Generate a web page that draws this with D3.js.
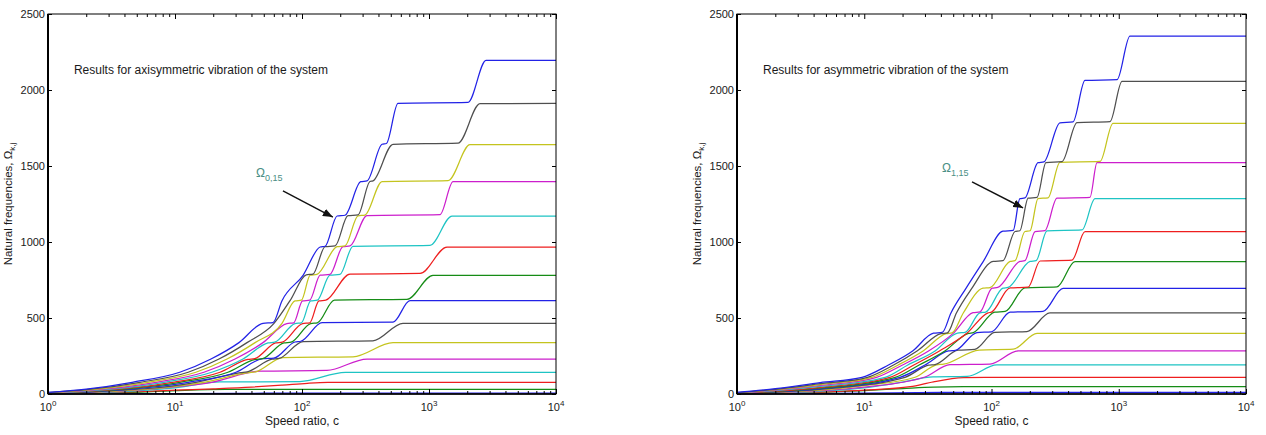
<!DOCTYPE html>
<html>
<head>
<meta charset="utf-8">
<script src="https://cdn.jsdelivr.net/npm/d3@7"></script>
<style>
  body { margin: 0; background: #fff; }
  text { font-family: "Liberation Sans", Arial, Helvetica, sans-serif; }
</style>
</head>
<body>
<svg id="chart" width="1266" height="435"></svg>
<script>
// ---------------- DATA ----------------
const xTickValues = [1, 10, 100, 1000, 10000];
const xTickExponents = ["0", "1", "2", "3", "4"];
const yTickValues = [0, 500, 1000, 1500, 2000, 2500];
const modeColors = ["#2222e6", "#168c16", "#ee1e1e", "#1ec4c4", "#cc1ecc", "#c4c41e", "#4f4f4f"];

// Axisymmetric vibration: 15 modes, each a list of [speed ratio c, natural frequency]
const axisymmetricModes = [
  [[1,0.5],[10,3],[50,5],[10000,5]],
  [[1,1],[3,6],[6,14],[12,24],[25,30],[50,31],[10000,31]],
  [[1,1],[2,5],[5,15],[10,25],[20,34],[40,45],[70,58],[110,70],[160,76],[250,77],[10000,77]],
  [[1,2],[2,7],[5,20],[10,40],[22.6,79],[96,82],[220,143],[10000,143]],
  [[1,2],[2,9],[5,25],[10,47],[19.5,77],[46.7,150],[157,155],[325,230],[10000,230]],
  [[1,3],[2,11],[16.9,77],[38,141],[43,146],[70.8,240],[252,245],[521,338],[10000,338]],
  [[1,3],[2,12],[14.6,77],[33,141],[37,146],[58,229],[66,234],[102,345],[362,350],[624,465],[10000,465]],
  [[1,4],[2,13],[12.7,77],[30.2,143],[49,232],[60,236],[88,342],[98,347],[144,469],[521,473],[708,614],[10000,614]],
  [[1,4],[2,15],[10.9,77],[26.1,143],[43,228],[49,233],[72,336],[82,341],[117,463],[132,468],[180,618],[671,623],[1075,781],[10000,781]],
  [[1,5],[2,17],[9.5,77],[22.6,143],[37.5,228],[42.5,233],[62,336],[70,341],[101,463],[115,468],[136,612],[154,617],[239,789],[850,793],[1386,967],[10000,967]],
  [[1,6],[2,19],[8.2,77],[19.5,143],[34.3,230],[54,336],[61,341],[88,463],[99,468],[117,612],[132,617],[166,782],[199,787],[252,972],[1018,978],[1518,1171],[10000,1171]],
  [[1,7],[2,22],[7.1,77],[16.9,143],[29.7,230],[49.3,338],[76,463],[86,468],[101,612],[115,617],[139,782],[166,787],[210,969],[239,974],[325,1174],[1221,1180],[1546,1397],[10000,1397]],
  [[1,8],[2,25],[6.1,77],[14.6,143],[25.7,230],[42.7,338],[69.6,465],[88,612],[99,617],[116,782],[131,787],[189,969],[218,974],[276,1172],[313,1177],[427,1398],[1413,1404],[2103,1640],[10000,1640]],
  [[1,9],[2,28],[5.3,77],[12.7,143],[22.2,230],[36.9,338],[60.2,465],[80.5,614],[108,784],[122,789],[152,969],[182,974],[230,1173],[276,1178],[343,1398],[362,1402],[521,1643],[1692,1650],[2522,1910],[10000,1912]],
  [[1,10],[2,32],[4.6,77],[10.9,143],[19.2,230],[31.9,338],[49.3,465],[59.1,470],[69.6,614],[102,781],[139,967],[152,972],[189,1171],[218,1176],[290,1397],[325,1402],[427,1643],[462,1648],[570,1912],[2028,1918],[2812,2195],[10000,2195]]
];

// Asymmetric vibration: 15 modes, each a list of [speed ratio c, natural frequency]
const asymmetricModes = [
  [[1,0.5],[10,6],[40,10],[10000,10]],
  [[1,1],[2,4],[5,12],[10,22],[20,36],[35,46],[60,48],[10000,48]],
  [[1,1],[2,5],[5,14],[10,25],[23,48],[35,80],[60,107],[90,110],[10000,110]],
  [[1,2],[2,7],[4.5,18],[10,40],[20,78],[34.7,113],[64.2,116],[110,191],[10000,191]],
  [[1,2],[2,9],[4.5,22],[10,45],[30,112],[47.2,193],[97.3,197],[162,283],[10000,283]],
  [[1,3],[2,11],[4.5,26],[10,55],[25.1,110],[37,192],[42,196],[80,289],[148,295],[228,399],[10000,399]],
  [[1,3],[2,12],[4.5,30],[20.9,110],[32,190],[36,194],[54.6,288],[74,294],[106,405],[190,411],[288,533],[10000,533]],
  [[1,4],[2,14],[4.5,34],[19.1,110],[30,191],[46,283],[52,287],[76.9,404],[100,409],[140,538],[254,544],[365,695],[10000,695]],
  [[1,4],[2,16],[4.5,38],[17.5,110],[27,191],[43,283],[66,399],[72,404],[106,538],[128,543],[183,699],[327,705],[453,871],[10000,871]],
  [[1,5],[2,19],[4.5,44],[15.9,110],[24.5,191],[39,283],[64,399],[94,534],[100,539],[140,698],[194,703],[241,875],[429,881],[543,1068],[10000,1068]],
  [[1,6],[2,22],[4.5,50],[14.6,110],[22,191],[36,283],[54,401],[62,405],[81,534],[90,539],[123,696],[135,701],[201,872],[224,877],[273,1073],[514,1079],[651,1285],[10000,1285]],
  [[1,7],[2,25],[4.5,56],[12.5,110],[20,191],[32,283],[50,399],[71.6,535],[81.2,540],[101,696],[112,701],[167,872],[183,877],[220,1069],[263,1075],[327,1288],[594,1294],[675,1522],[10000,1522]],
  [[1,8],[2,28],[4.5,62],[11.5,110],[18.5,191],[29,283],[44,397],[49,402],[60,533],[85.8,696],[97.3,700],[140,872],[153,877],[183,1069],[201,1074],[232,1286],[278,1291],[345,1524],[713,1530],[901,1781],[10000,1781]],
  [[1,9],[2,31],[4.5,68],[10.6,110],[17,191],[26,283],[40,397],[45,402],[53,533],[70,695],[103,872],[123,877],[153,1069],[167,1074],[194,1288],[228,1294],[268,1522],[358,1528],[470,1785],[854,1792],[1061,2057],[10000,2057]],
  [[1,10],[2,35],[4.5,75],[9.6,110],[15.5,191],[24,283],[35,400],[41,405],[48,533],[63,695],[86,871],[123,1071],[148,1076],[167,1285],[183,1290],[232,1522],[258,1527],[345,1784],[437,1790],[543,2063],[969,2068],[1225,2355],[10000,2355]]
];

// annotation anchors [c, value]: label, arrow tail, arrow tip
const axisymmetricNote = [[43.4,1428],[70.8,1336],[175,1164]];
const asymmetricNote = [[40.8,1461],[70.3,1395],[177,1224]];
const titlePos = [1.6, 2105];

// ---------------- DRAW ----------------
const svg = d3.select("#chart");
const plotTop = 14, plotBottom = 394;

svg.append("defs").append("marker")
  .attr("id", "arrowHead").attr("viewBox", "0 0 10 8")
  .attr("refX", 10).attr("refY", 4)
  .attr("markerWidth", 10).attr("markerHeight", 8)
  .attr("markerUnits", "userSpaceOnUse").attr("orient", "auto")
  .append("path").attr("d", "M0,0 L10,4 L0,8 Z").attr("fill", "#111");

const panels = [
  { x0: 48, x1: 556, modes: axisymmetricModes, note: axisymmetricNote, sub: "0,15",
    title: "Results for axisymmetric vibration of the system" },
  { x0: 737, x1: 1246, modes: asymmetricModes, note: asymmetricNote, sub: "1,15",
    title: "Results for asymmetric vibration of the system" }
];

panels.forEach(p => {
  const x = d3.scaleLog().domain([1, 10000]).range([p.x0, p.x1]);
  const y = d3.scaleLinear().domain([0, 2500]).range([plotBottom, plotTop]);
  const g = svg.append("g");

  // curves
  const line = d3.line().x(d => x(d[0])).y(d => y(d[1])).curve(d3.curveMonotoneX);
  p.modes.forEach((m, i) => {
    g.append("path").attr("d", line(m)).attr("fill", "none")
      .attr("stroke", modeColors[i % 7]).attr("stroke-width", 1.25);
  });

  // frame
  g.append("rect").attr("x", p.x0).attr("y", plotTop).attr("width", p.x1 - p.x0)
    .attr("height", plotBottom - plotTop).attr("fill", "none").attr("stroke", "#000").attr("stroke-width", 1);
  g.append("line").attr("x1", p.x0).attr("x2", p.x0).attr("y1", plotTop).attr("y2", plotBottom)
    .attr("stroke", "#000").attr("stroke-width", 2);
  g.append("line").attr("x1", p.x0).attr("x2", p.x1).attr("y1", plotBottom).attr("y2", plotBottom)
    .attr("stroke", "#000").attr("stroke-width", 1.6);

  const minor = x.ticks().filter(v => !xTickValues.includes(v));
  const strip = s => s.select(".domain").remove();
  const style = s => s.selectAll("line").attr("stroke", "#000");

  g.append("g").attr("transform", `translate(0,${plotBottom})`)
    .call(d3.axisBottom(x).tickValues(xTickValues).tickSize(-5).tickFormat(""))
    .call(strip).call(style);
  g.append("g").attr("transform", `translate(0,${plotBottom})`)
    .call(d3.axisBottom(x).tickValues(minor).tickSize(-3).tickFormat(""))
    .call(strip).call(style);
  g.append("g").attr("transform", `translate(0,${plotTop})`)
    .call(d3.axisTop(x).tickValues(xTickValues).tickSize(-5).tickFormat(""))
    .call(strip).call(style);
  g.append("g").attr("transform", `translate(0,${plotTop})`)
    .call(d3.axisTop(x).tickValues(minor).tickSize(-3).tickFormat(""))
    .call(strip).call(style);
  g.append("g").attr("transform", `translate(${p.x0},0)`)
    .call(d3.axisLeft(y).tickValues(yTickValues).tickSize(-4).tickPadding(3).tickFormat(d3.format("d")))
    .call(strip).call(style)
    .call(s => s.selectAll("text").attr("font-size", 11).attr("fill", "#1a1a1a")
      .attr("font-family", "Liberation Sans, Arial, sans-serif"));
  g.append("g").attr("transform", `translate(${p.x1},0)`)
    .call(d3.axisRight(y).tickValues(yTickValues).tickSize(-4).tickFormat(""))
    .call(strip).call(style);

  // x tick labels 10^n
  xTickValues.forEach((v, i) => {
    const t = g.append("text").attr("x", x(v)).attr("y", 411)
      .attr("text-anchor", "middle").attr("font-size", 11).attr("fill", "#1a1a1a");
    t.append("tspan").text("10");
    t.append("tspan").attr("dy", -5).attr("font-size", 8).text(xTickExponents[i]);
  });

  // axis titles
  g.append("text").attr("x", (p.x0 + p.x1) / 2).attr("y", 425)
    .attr("text-anchor", "middle").attr("font-size", 12).attr("fill", "#1a1a1a")
    .text("Speed ratio, c");
  const yl = g.append("text")
    .attr("transform", `translate(${p.x0 - 36},${(plotTop + plotBottom) / 2}) rotate(-90)`)
    .attr("text-anchor", "middle").attr("font-size", 11.5).attr("fill", "#1a1a1a");
  yl.append("tspan").text("Natural frequencies,  \u03A9");
  yl.append("tspan").attr("dy", 3).attr("font-size", 8).text("k,j");

  // panel text
  g.append("text").attr("x", x(titlePos[0])).attr("y", y(titlePos[1]))
    .attr("font-size", 12).attr("fill", "#1a1a1a").text(p.title);

  // annotation
  const lab = g.append("text").attr("x", x(p.note[0][0])).attr("y", y(p.note[0][1]))
    .attr("font-size", 12).attr("fill", "#4a8f85");
  lab.append("tspan").text("\u03A9");
  lab.append("tspan").attr("dy", 4).attr("font-size", 9).text(p.sub);
  g.append("line")
    .attr("x1", x(p.note[1][0])).attr("y1", y(p.note[1][1]))
    .attr("x2", x(p.note[2][0])).attr("y2", y(p.note[2][1]))
    .attr("stroke", "#111").attr("stroke-width", 1.4).attr("marker-end", "url(#arrowHead)");
});
</script>
</body>
</html>
